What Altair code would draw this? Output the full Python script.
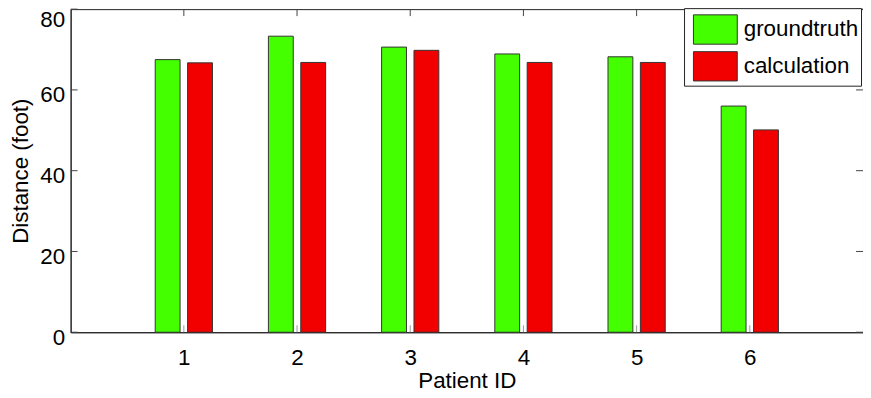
import altair as alt
import pandas as pd

patients = [1, 2, 3, 4, 5, 6]
groundtruth = [67.5, 73.3, 70.6, 68.9, 68.2, 56.0]
calculation = [66.7, 66.8, 69.8, 66.8, 66.8, 50.1]
series = ["groundtruth", "calculation"]
colors = ["#44ff00", "#f20000"]
y_ticks = [0, 20, 40, 60, 80]

rows = []
for p, g, c in zip(patients, groundtruth, calculation):
    rows.append({"patient": p, "series": "groundtruth", "value": g})
    rows.append({"patient": p, "series": "calculation", "value": c})
df = pd.DataFrame(rows)

W, H = 797, 325
FONT = "Liberation Sans"
FS = 22.5

xscale = alt.Scale(domain=[0, 7], nice=False, zero=False, padding=0)
yscale = alt.Scale(domain=[0, 80], nice=False, padding=0)

bars = alt.Chart(df).transform_calculate(
    pos="datum.patient + (datum.series == 'groundtruth' ? -0.143 : 0.143)"
).mark_bar(size=25, stroke="#333333", strokeWidth=1).encode(
    x=alt.X("pos:Q", scale=xscale,
            axis=alt.Axis(values=patients, format="d", title="Patient ID",
                          tickSize=0, labelPadding=14, titleY=38,
                          titleBaseline="top",
                          labelFont=FONT, labelFontSize=FS, titleFont=FONT,
                          titleFontSize=FS, titleFontWeight="normal",
                          labelColor="black", titleColor="black",
                          domainColor="#222222", grid=False)),
    y=alt.Y("value:Q", scale=yscale,
            axis=alt.Axis(values=y_ticks, title="Distance (foot)",
                          tickSize=0, labelPadding=6, titlePadding=7,
                          labelOffset=alt.condition("datum.value == 80",
                                                    alt.value(10), alt.value(5)),
                          labelFont=FONT, labelFontSize=FS, titleFont=FONT,
                          titleFontSize=FS, titleFontWeight="normal",
                          labelColor="black", titleColor="black",
                          domainColor="#222222", grid=False)),
    color=alt.Color("series:N",
                    scale=alt.Scale(domain=series, range=colors),
                    sort=series,
                    legend=alt.Legend(orient="none", legendX=617, legendY=-1,
                                      title=None, direction="vertical",
                                      fillColor="white", strokeColor="#222222",
                                      padding=2, rowPadding=0,
                                      symbolType="M-1.16,-0.776L1.16,-0.776L1.16,0.776L-1.16,0.776Z",
                                      symbolSize=1444, symbolStrokeColor="#333333",
                                      symbolStrokeWidth=1, symbolOpacity=1,
                                      symbolOffset=10, labelOffset=9,
                                      labelFont=FONT, labelFontSize=22.5,
                                      labelColor="black")),
)

ydf = pd.DataFrame({"v": y_ticks})
xdf = pd.DataFrame({"v": patients})

yt_left = alt.Chart(ydf).mark_rule(color="#444444").encode(
    y=alt.Y("v:Q", scale=yscale), x=alt.value(0), x2=alt.value(7))
yt_right = alt.Chart(ydf).mark_rule(color="#444444").encode(
    y=alt.Y("v:Q", scale=yscale), x=alt.value(W - 7), x2=alt.value(W))
xt_top = alt.Chart(xdf).mark_rule(color="#444444").encode(
    x=alt.X("v:Q", scale=xscale), y=alt.value(0), y2=alt.value(7))
xt_bot = alt.Chart(xdf).mark_rule(color="#999999").encode(
    x=alt.X("v:Q", scale=xscale), y=alt.value(H - 7), y2=alt.value(H))

chart = alt.layer(bars, yt_left, yt_right, xt_top, xt_bot).properties(
    width=W, height=H, autosize="none",
    padding={"left": 63, "top": 0, "right": 0, "bottom": 65},
).configure_view(stroke="#222222", strokeWidth=1)

chart.save("out.html", embed_options={"renderer": "svg", "actions": False})
